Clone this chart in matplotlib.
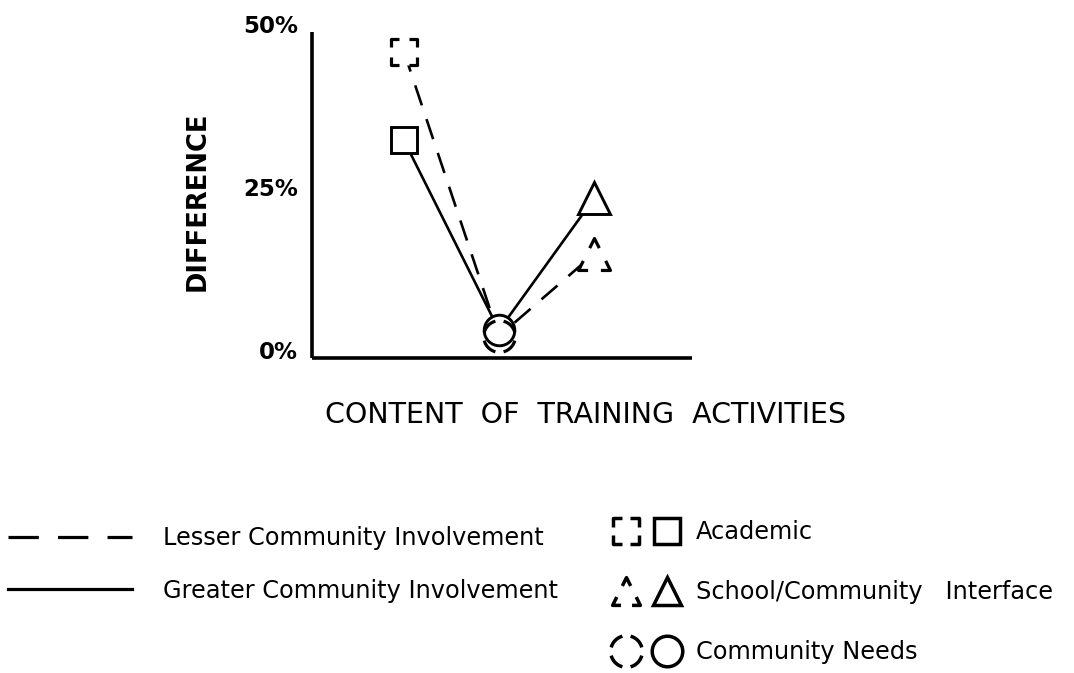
import numpy as np
import matplotlib
matplotlib.use("Agg")
import matplotlib.pyplot as plt
from matplotlib.path import Path
from matplotlib.lines import Line2D
from matplotlib.legend_handler import HandlerTuple
from matplotlib.transforms import ScaledTranslation

# ---------------- data ----------------
categories = ["Academic", "Community Needs", "School/Community   Interface"]
lesser = [47.0, 3.4, 16.0]      # Lesser Community Involvement (%)
greater = [33.4, 4.3, 24.5]     # Greater Community Involvement (%)
y_ticks = [0, 25, 50]
y_tick_labels = ["0%", "25%", "50%"]
series_labels = ["Lesser Community Involvement", "Greater Community Involvement"]
x_label = "CONTENT  OF  TRAINING  ACTIVITIES"
y_label = "DIFFERENCE"
legend_order = [0, 2, 1]  # Academic, Interface, Needs

plt.rcParams["font.family"] = ["DejaVu Sans"]


# ---------------- dashed marker paths ----------------
def dashed_square(L=0.65):
    verts, codes = [], []
    for cx, cy in [(-1, -1), (1, -1), (1, 1), (-1, 1)]:
        verts += [(cx - cx * L, cy), (cx, cy), (cx, cy - cy * L)]
        codes += [Path.MOVETO, Path.LINETO, Path.LINETO]
    return Path(verts, codes)


def dashed_triangle(f=0.3):
    pts = np.array([(0, 1), (-1, -1), (1, -1)], float)
    verts, codes = [], []
    for i in range(3):
        v = pts[i]
        n1 = pts[(i + 1) % 3]
        n2 = pts[(i + 2) % 3]
        verts += [tuple(v + f * (n1 - v)), tuple(v), tuple(v + f * (n2 - v))]
        codes += [Path.MOVETO, Path.LINETO, Path.LINETO]
    return Path(verts, codes)


def dashed_circle(half_span=30):
    verts, codes = [], []
    for c in [45, 135, 225, 315]:
        ang = np.radians(np.linspace(c - half_span, c + half_span, 12))
        for k, a in enumerate(ang):
            verts.append((np.cos(a), np.sin(a)))
            codes.append(Path.MOVETO if k == 0 else Path.LINETO)
    return Path(verts, codes)


solid_marks = ["s", "o", "^"]
dashed_marks = [dashed_square(), dashed_circle(), dashed_triangle()]
plot_sizes = [19, 22, 23]
legend_sizes = [18.5, 22, 20]

# ---------------- figure ----------------
fig = plt.figure(figsize=(10.74, 6.73), dpi=100)
ax = fig.add_axes([0.2902, 0.4676, 0.3541, 0.4849])

x = np.arange(1, len(categories) + 1)

ax.plot(x, lesser, color="black", lw=1.9, dashes=(8, 5.5), zorder=2)
ax.plot(x, greater, color="black", lw=1.9, zorder=2)

for i in range(len(categories)):
    for vals in (lesser, greater):
        ax.plot(x[i], vals[i], ls="none", marker=solid_marks[i], ms=plot_sizes[i],
                mfc="white", mec="none", zorder=3)
    ax.plot(x[i], lesser[i], ls="none", marker=dashed_marks[i], ms=plot_sizes[i],
            mfc="none", mec="black", mew=2.3, zorder=4)
    ax.plot(x[i], greater[i], ls="none", marker=solid_marks[i], ms=plot_sizes[i],
            mfc="none", mec="black", mew=2.1, zorder=4)

ax.set_xlim(0.03, 4.03)
ax.set_ylim(0, 50)
ax.set_xticks([])
ax.set_yticks(y_ticks)
ax.set_yticklabels(y_tick_labels, fontsize=16.5, fontweight="bold")
ax.tick_params(axis="y", length=0, pad=10)
for lab in ax.get_yticklabels():
    lab.set_transform(lab.get_transform() + ScaledTranslation(0, 6 / 72, fig.dpi_scale_trans))

for s in ["top", "right"]:
    ax.spines[s].set_visible(False)
for s in ["left", "bottom"]:
    ax.spines[s].set_linewidth(2.6)
    ax.spines[s].set_capstyle("butt")

ax.set_xlabel(x_label, fontsize=20.5)
ax.xaxis.set_label_coords(0.72, -0.13)
ax.set_ylabel(y_label, fontsize=18.5, fontweight="bold")
ax.yaxis.set_label_coords(-0.265, 0.48)

# ---------------- legends ----------------
fs = 17.3
line_handles = [
    Line2D([], [], color="black", lw=2.3, dashes=(9.5, 6.0)),
    Line2D([], [], color="black", lw=2.3),
]
leg1 = fig.legend(line_handles, series_labels, loc="upper left",
                  bbox_to_anchor=(8 / 1074, 1 - 526 / 673), frameon=False,
                  fontsize=fs, borderpad=0, borderaxespad=0,
                  handlelength=5.15, handletextpad=1.3, labelspacing=1.2)

marker_handles, marker_labels = [], []
for i in legend_order:
    h_d = Line2D([], [], ls="none", marker=dashed_marks[i], ms=legend_sizes[i],
                 mfc="none", mec="black", mew=2.5)
    h_s = Line2D([], [], ls="none", marker=solid_marks[i], ms=legend_sizes[i],
                 mfc="none", mec="black", mew=2.5)
    marker_handles.append((h_d, h_s))
    marker_labels.append(categories[i])

leg2 = fig.legend(marker_handles, marker_labels, loc="upper left",
                  bbox_to_anchor=(605 / 1074, 1 - 520 / 673), frameon=False,
                  fontsize=fs, borderpad=0, borderaxespad=0,
                  handlelength=3.42, handletextpad=0.38, labelspacing=1.5,
                  handler_map={tuple: HandlerTuple(ndivide=None, pad=0)})

fig.savefig("out.png", dpi=100)
